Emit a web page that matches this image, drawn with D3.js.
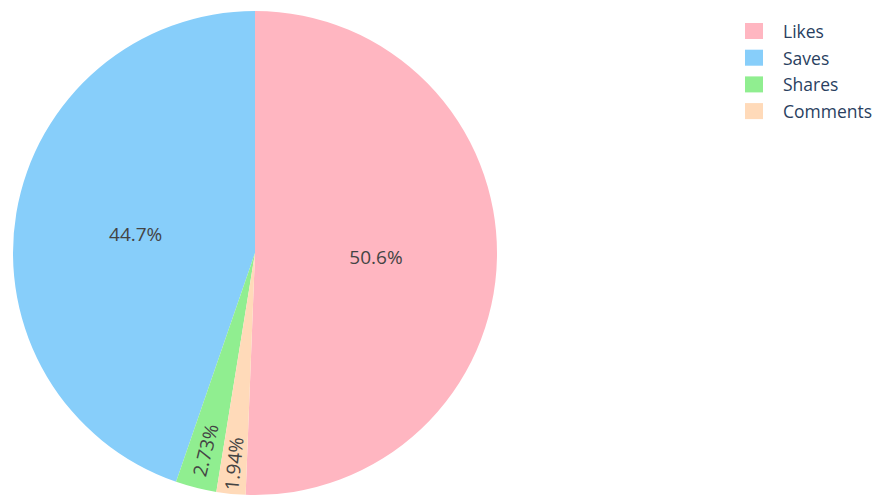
<!DOCTYPE html>
<html>
<head>
<meta charset="utf-8">
<script src="https://cdn.jsdelivr.net/npm/d3@7"></script>
<style>
  html, body { margin: 0; padding: 0; background: #fff; }
  svg { display: block; }
</style>
</head>
<body>
<svg id="chart" width="880" height="496"></svg>
<script>
// Engagement breakdown (percent of total interactions)
const categories = ["Likes", "Saves", "Shares", "Comments"];
const values = [50.6, 44.7, 2.73, 1.94];
const colors = ["#FFB6C1", "#87CEFA", "#90EE90", "#FFDAB9"];
// Order in which slices run clockwise from 12 o'clock
const drawOrder = ["Likes", "Comments", "Shares", "Saves"];

const W = 880, H = 496;
const cx = 255, cy = 253, R = 242;
const fontFamily = "'Open Sans', 'DejaVu Sans', sans-serif";

const svg = d3.select("#chart");
const data = categories.map((c, i) => ({ name: c, value: values[i], color: colors[i] }));
const total = d3.sum(values);
const fmtPct = v => d3.format(".3~r")(v / total * 100) + "%";

const pie = d3.pie()
  .value(d => d.value)
  .sort((a, b) => drawOrder.indexOf(a.name) - drawOrder.indexOf(b.name));
const arcs = pie(data);
const arc = d3.arc().innerRadius(0).outerRadius(R);

const g = svg.append("g").attr("transform", `translate(${cx},${cy})`);

g.selectAll("path.slice")
  .data(arcs)
  .join("path")
  .attr("class", "slice")
  .attr("d", arc)
  .attr("fill", d => d.data.color);

// Slice labels: horizontal for wide slices, radial for narrow ones
g.selectAll("text.pct")
  .data(arcs)
  .join("text")
  .attr("class", "pct")
  .attr("font-family", fontFamily)
  .attr("font-size", 19)
  .attr("fill", "#444")
  .attr("text-anchor", "middle")
  .attr("dominant-baseline", "central")
  .attr("transform", d => {
    const mid = (d.startAngle + d.endAngle) / 2;
    const span = d.endAngle - d.startAngle;
    const wide = span > 0.5;
    const r = wide ? R * 0.5 : R * (d.data.name === "Comments" ? 0.875 : 0.84);
    const x = r * Math.sin(mid), y = -r * Math.cos(mid) + (wide ? 1.5 : 0);
    if (wide) return `translate(${x},${y})`;
    const rot = mid * 180 / Math.PI - 270;
    return `translate(${x},${y}) rotate(${rot})`;
  })
  .text(d => fmtPct(d.data.value));

// Legend
const legend = svg.append("g").attr("transform", "translate(745,31)");
const rowH = 26.7;
const items = legend.selectAll("g.item")
  .data(data)
  .join("g")
  .attr("class", "item")
  .attr("transform", (d, i) => `translate(0,${i * rowH})`);
items.append("rect")
  .attr("x", 0).attr("y", -8)
  .attr("width", 18).attr("height", 16)
  .attr("fill", d => d.color);
items.append("text")
  .attr("x", 38).attr("y", 0)
  .attr("dominant-baseline", "central")
  .attr("font-family", fontFamily)
  .attr("font-size", 17.5)
  .attr("fill", "#2a3f5f")
  .text(d => d.name);
</script>
</body>
</html>
